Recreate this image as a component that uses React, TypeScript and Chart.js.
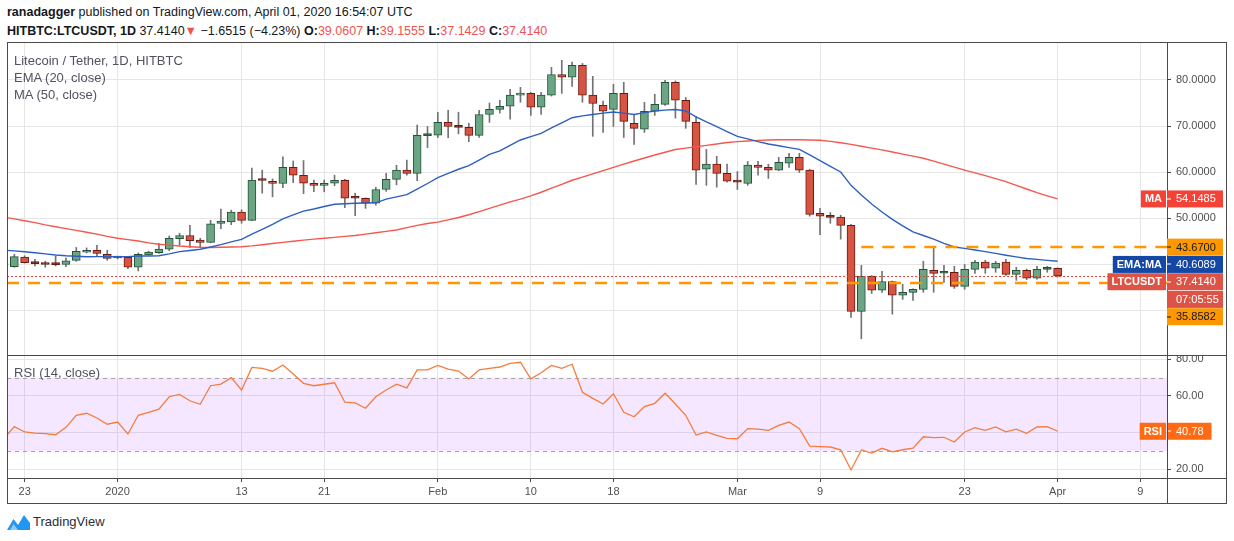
import React, { useEffect, useRef } from 'react';
import { Chart, registerables } from 'chart.js';

Chart.register(...registerables);

const FONT = '"Liberation Sans", Arial, sans-serif';

// ---- x axis (day index 0 = 2019-12-21) ----
const tickDays = [2, 11, 23, 31, 42, 51, 59, 71, 79, 93, 102, 110];
const tickLabels = ['23', '2020', '13', '21', 'Feb', '10', '18', 'Mar', '9', '23', 'Apr', '9'];

// ---- LTC/USDT daily candles, Dec 21 2019 .. Apr 1 2020 ----
const opens = [
  39.95, 39.41, 41.5, 40.4, 40.15, 39.95, 39.9, 40.8, 42.55, 43.0,
  42.1, 41.3, 41.45, 39.3, 42.0, 42.45, 43.2, 45.5, 46.2, 45.2,
  44.7, 48.85, 49.13, 51.3, 49.5, 58.25, 57.98, 57.5, 61.0, 59.3,
  57.55, 57.1, 57.55, 58.2, 54.5, 54.3, 53.2, 56.2, 58.4, 60.4,
  59.7, 67.9, 68.0, 70.8, 69.9, 69.7, 67.97, 72.5, 73.6, 74.3,
  76.7, 77.1, 74.1, 76.7, 81.2, 80.6, 83.2, 76.7, 74.5, 73.6,
  77.1, 70.6, 69.3, 73.2, 74.7, 79.5, 75.6, 70.8, 60.6, 61.7,
  59.7, 58.0, 57.5, 61.5, 61.0, 60.4, 61.9, 63.2, 60.4, 51.0,
  50.25, 50.2, 48.4, 29.7, 37.3, 34.3, 36.2, 33.2, 33.85, 34.5,
  38.6, 38.0, 38.2, 35.15, 38.85, 40.4, 39.1, 40.4, 37.75, 38.6,
  36.9, 38.85, 39.06,
];
const highs = [
  40.4, 42.1, 41.8, 41.0, 40.6, 41.7, 41.3, 43.6, 43.5, 44.06,
  43.0, 41.7, 41.6, 42.4, 42.8, 44.5, 46.1, 46.7, 48.4, 45.6,
  49.5, 51.96, 51.7, 51.8, 60.87, 60.4, 58.5, 63.3, 62.4, 62.5,
  58.26, 58.26, 59.3, 58.4, 55.4, 54.4, 56.68, 59.7, 61.45, 62.6,
  70.2, 69.9, 72.98, 73.4, 73.0, 70.6, 73.4, 75.0, 75.6, 77.98,
  78.4, 77.3, 77.3, 82.76, 84.28, 83.9, 83.6, 80.8, 75.4, 79.06,
  79.5, 72.5, 75.15, 76.9, 79.93, 79.8, 76.2, 72.1, 64.9, 63.4,
  61.7, 60.1, 62.3, 62.3, 61.7, 63.2, 64.07, 64.07, 60.6, 52.1,
  51.2, 50.6, 48.6, 39.7, 37.5, 38.4, 36.3, 35.6, 34.6, 40.6,
  43.6, 39.7, 39.5, 39.9, 40.8, 40.8, 40.6, 41.0, 39.3, 38.9,
  39.5, 39.5, 39.16,
];
const lows = [
  39.5, 39.3, 40.2, 39.6, 39.3, 39.56, 39.4, 40.6, 42.4, 41.6,
  40.8, 41.1, 38.98, 38.5, 41.9, 42.3, 42.9, 44.06, 43.6, 43.6,
  44.6, 47.68, 48.55, 48.85, 49.4, 55.4, 54.6, 56.6, 57.7, 55.3,
  55.7, 55.7, 57.0, 52.25, 50.5, 52.1, 52.8, 55.8, 57.2, 59.3,
  58.1, 65.3, 67.5, 67.45, 68.3, 66.6, 67.5, 70.8, 72.8, 71.5,
  75.15, 72.3, 72.5, 76.5, 77.1, 78.6, 75.15, 67.75, 68.6, 69.9,
  67.5, 66.0, 68.6, 72.3, 74.5, 71.7, 69.5, 57.3, 57.1, 56.7,
  57.8, 56.2, 57.1, 59.3, 58.6, 60.3, 61.0, 59.9, 50.4, 46.4,
  48.85, 45.4, 28.4, 23.75, 33.6, 33.85, 29.1, 32.3, 32.1, 33.85,
  33.85, 36.0, 34.7, 34.5, 37.97, 37.97, 38.2, 37.5, 36.45, 36.6,
  36.7, 38.2, 37.14,
];
const closes = [
  39.8, 41.59, 40.3, 40.1, 39.9, 39.85, 40.7, 42.75, 42.99, 42.3,
  41.2, 41.6, 39.3, 42.1, 42.6, 43.26, 45.6, 46.2, 45.1, 44.7,
  48.75, 49.35, 51.3, 49.5, 58.26, 58.15, 57.5, 61.0, 59.3, 57.55,
  57.1, 57.55, 58.2, 54.3, 54.3, 53.2, 56.2, 58.4, 60.4, 59.7,
  67.97, 68.1, 70.8, 69.9, 69.7, 67.97, 72.5, 73.6, 74.3, 76.7,
  77.1, 74.1, 76.7, 81.2, 80.6, 83.2, 76.7, 74.9, 73.2, 77.1,
  71.0, 69.5, 73.2, 74.7, 79.5, 75.6, 71.0, 60.4, 61.7, 59.7,
  58.0, 57.8, 61.5, 61.0, 60.4, 62.1, 63.2, 60.4, 50.8, 50.4,
  50.15, 48.4, 29.7, 37.3, 34.3, 36.2, 33.2, 33.85, 34.5, 38.85,
  37.97, 38.2, 35.15, 38.85, 40.4, 39.1, 40.2, 37.75, 38.6, 36.9,
  38.85, 39.06, 37.414,
];

// ---- indicators ----
const ema20 = [
  43.0, 42.85, 42.68, 42.45, 42.2, 41.96, 41.8, 41.7, 41.58, 41.6,
  41.6, 41.58, 41.6, 41.74, 41.75, 41.8, 42.2, 42.68, 42.95, 43.2,
  43.7, 44.2, 44.8, 45.37, 46.5, 47.55, 48.6, 49.8, 50.7, 51.5,
  51.96, 52.5, 52.98, 53.1, 53.2, 53.25, 53.3, 54.1, 54.6, 55.07,
  56.3, 57.5, 58.76, 59.7, 60.6, 61.4, 62.6, 63.85, 64.6, 65.8,
  66.96, 67.7, 68.4, 69.6, 70.7, 71.8, 72.2, 72.5, 72.8, 73.04,
  72.8, 72.5, 72.9, 73.26, 73.45, 73.6, 73.26, 72.0, 70.9, 69.85,
  68.8, 67.76, 67.2, 66.6, 66.1, 65.7, 65.3, 64.93, 63.7, 62.46,
  61.2, 60.0, 57.1, 55.0, 53.04, 51.3, 49.7, 48.3, 47.0, 46.2,
  45.4, 44.5, 43.7, 43.4, 43.04, 42.7, 42.3, 41.9, 41.55, 41.2,
  41.0, 40.8, 40.6089,
];
const ma50 = [
  50.2, 49.8, 49.4, 49.0, 48.5, 48.1, 47.7, 47.3, 46.9, 46.5,
  46.0, 45.6, 45.3, 45.0, 44.6, 44.3, 44.1, 43.9, 43.75, 43.63,
  43.6, 43.65, 43.7, 43.76, 43.95, 44.2, 44.45, 44.7, 44.95, 45.2,
  45.4, 45.6, 45.8, 46.0, 46.2, 46.5, 46.8, 47.1, 47.4, 47.9,
  48.4, 48.8, 49.1, 49.6, 50.1, 50.7, 51.4, 52.1, 52.8, 53.5,
  54.1, 54.8, 55.6, 56.5, 57.3, 58.2, 58.9, 59.6, 60.3, 61.0,
  61.7, 62.4, 63.04, 63.7, 64.3, 64.9, 65.2, 65.5, 65.8, 66.1,
  66.4, 66.6, 66.75, 66.87, 66.96, 67.0, 67.02, 67.0, 66.95, 66.9,
  66.65, 66.37, 66.0, 65.6, 65.2, 64.8, 64.35, 63.9, 63.45, 62.98,
  62.35, 61.7, 61.05, 60.4, 59.8, 59.2, 58.55, 57.9, 57.1, 56.3,
  55.5, 54.8, 54.1485,
];
const rsi14 = [
  36.8, 43.3, 40.4, 39.8, 39.5, 38.9, 42.9, 49.5, 50.6, 48.0,
  44.6, 45.8, 39.3, 49.5, 51.1, 52.8, 59.6, 60.9, 57.4, 55.5,
  65.6, 66.5, 70.0, 63.3, 75.6, 75.1, 73.5, 76.9, 72.0, 66.9,
  65.6, 66.4, 67.2, 56.6, 56.2, 53.3, 59.6, 63.3, 66.4, 64.4,
  74.2, 74.2, 76.7, 74.7, 73.6, 69.3, 74.2, 75.1, 75.8, 77.8,
  78.4, 69.4, 72.7, 76.7, 75.1, 77.3, 62.0, 58.7, 55.6, 61.2,
  51.1, 48.7, 54.2, 56.0, 61.5, 55.6, 49.5, 38.7, 40.4, 38.6,
  36.9, 36.7, 42.2, 41.9, 41.3, 44.0, 45.8, 42.2, 32.7, 32.4,
  32.2, 30.7, 19.7, 30.6, 28.9, 31.5, 29.6, 30.7, 31.6, 37.8,
  37.3, 37.5, 34.9, 40.4, 42.7, 41.3, 43.1, 40.5, 41.9, 39.7,
  43.1, 43.3, 40.78,
];

// ---- drawn levels / last values ----
const levelHigh = 43.67;
const levelLow = 35.8582;
const levelHighStartDay = 83;
const lastPrice = 37.414;
const lastEma = 40.6089;
const lastMa = 54.1485;
const lastRsi = 40.78;
const countdown = '07:05:55';
const rsiBandLow = 30;
const rsiBandHigh = 70;
const mainTicks = [30, 40, 50, 60, 70, 80];
const rsiTicks = [20, 40, 60, 80];

// ---- styling ----
const X_MIN = 0.293;
const X_MAX = 112.59;
const W = 1220;
const MAIN_H = 313;
const RSI_H = 149;
const AXIS_W = 60;
const XAXIS_H = 26;
const GRID = '#e6e6e6';
const FRAME = '#4a4a4a';
const TEXT = '#4f4f4f';
const GREEN = '#6ba583';
const GREEN_B = '#225437';
const RED = '#d75442';
const RED_B = '#6b1a12';

const noPad = (s: any) => {
  s.paddingTop = 0;
  s.paddingBottom = 0;
  s.paddingLeft = 0;
  s.paddingRight = 0;
};

const setDayTicks = (s: any) => {
  s.ticks = tickDays.map((v) => ({ value: v }));
};

function candleColor(i: number | undefined, border: boolean) {
  if (i === undefined) return border ? GREEN_B : GREEN;
  const up = closes[i] >= opens[i];
  const doji = Math.abs(closes[i] - opens[i]) < 0.35;
  if (border || doji) return up ? GREEN_B : RED_B;
  return up ? GREEN : RED;
}

function drawBox(ctx: CanvasRenderingContext2D, x: number, top: number, w: number, h: number, bg: string) {
  ctx.fillStyle = bg;
  ctx.fillRect(x, top, w, h);
}

type AxisLabel = { value: number; text: string; bg: string; fg: string; tag?: string; extra?: string };

function drawAxisLabels(chart: any, labels: AxisLabel[], scaleId: string) {
  const { ctx, chartArea } = chart;
  const scale = chart.scales[scaleId];
  const axisLeft = chartArea.right;
  const H = 17;
  const items = labels
    .map((l) => ({ ...l, py: scale.getPixelForValue(l.value) }))
    .sort((a, b) => a.py - b.py);
  let prevBottom = -Infinity;
  ctx.save();
  ctx.textBaseline = 'middle';
  for (const it of items) {
    const top = Math.max(it.py - H / 2, prevBottom + 0.3);
    const cy = top + H / 2;
    ctx.font = `11px ${FONT}`;
    const tw = ctx.measureText(it.text).width;
    const bw = Math.max(56, tw + 17);
    const boxW = labels.length > 1 ? 56 : tw + 17;
    drawBox(ctx, axisLeft, top, boxW, H, it.bg);
    ctx.fillStyle = it.fg;
    ctx.fillRect(axisLeft, Math.round(cy) - 0.5, 4, 1);
    ctx.textAlign = 'left';
    ctx.fillText(it.text, axisLeft + 9, cy + 0.5);
    let bottom = top + H;
    if (it.extra) {
      const top2 = top + H + 0.7;
      drawBox(ctx, axisLeft, top2, boxW, H, it.bg);
      ctx.fillStyle = it.fg;
      ctx.fillText(it.extra, axisLeft + 9, top2 + H / 2 + 0.5);
      bottom = top2 + H;
    }
    if (it.tag) {
      ctx.font = `bold 11px ${FONT}`;
      const gw = ctx.measureText(it.tag).width + 8;
      drawBox(ctx, axisLeft - 1 - gw, top, gw, H, it.bg);
      ctx.fillStyle = it.fg;
      ctx.textAlign = 'center';
      ctx.fillText(it.tag, axisLeft - 1 - gw / 2, cy + 0.5);
    }
    void bw;
    prevBottom = bottom;
  }
  ctx.restore();
}

const mainLabels: AxisLabel[] = [
  { value: lastMa, text: lastMa.toFixed(4), bg: '#f44336', fg: '#ffffff', tag: 'MA' },
  { value: levelHigh, text: levelHigh.toFixed(4), bg: '#ff9800', fg: '#131722' },
  { value: lastEma, text: lastEma.toFixed(4), bg: '#1448a4', fg: '#ffffff', tag: 'EMA:MA' },
  { value: lastPrice, text: lastPrice.toFixed(4), bg: '#dd5446', fg: '#ffffff', tag: 'LTCUSDT', extra: countdown },
  { value: levelLow, text: levelLow.toFixed(4), bg: '#ff9800', fg: '#131722' },
];
const rsiLabels: AxisLabel[] = [
  { value: lastRsi, text: lastRsi.toFixed(2), bg: '#ff6a13', fg: '#ffffff', tag: 'RSI' },
];

const mainOverlay = {
  id: 'mainOverlay',
  afterDatasetsDraw(chart: any) {
    const { ctx, chartArea } = chart;
    const { left, right, top, bottom } = chartArea;
    const x = chart.scales.x;
    const y = chart.scales.y;
    ctx.save();
    ctx.beginPath();
    ctx.rect(left, top, right - left, bottom - top);
    ctx.clip();
    // last price dotted line
    ctx.strokeStyle = '#e0463b';
    ctx.lineWidth = 1;
    ctx.setLineDash([2, 2]);
    const yp = Math.round(y.getPixelForValue(lastPrice)) + 0.5;
    ctx.beginPath();
    ctx.moveTo(left, yp);
    ctx.lineTo(right, yp);
    ctx.stroke();
    // orange horizontal levels
    ctx.strokeStyle = '#ff9800';
    ctx.lineWidth = 2.5;
    ctx.setLineDash([12, 9]);
    const yh = y.getPixelForValue(levelHigh);
    ctx.beginPath();
    ctx.moveTo(x.getPixelForValue(levelHighStartDay), yh);
    ctx.lineTo(right, yh);
    ctx.stroke();
    const yl = y.getPixelForValue(levelLow);
    ctx.beginPath();
    ctx.moveTo(left, yl);
    ctx.lineTo(right, yl);
    ctx.stroke();
    ctx.restore();
  },
  afterDraw(chart: any) {
    const { ctx } = chart;
    drawAxisLabels(chart, mainLabels, 'y');
    ctx.save();
    ctx.strokeStyle = FRAME;
    ctx.lineWidth = 1;
    ctx.beginPath();
    ctx.moveTo(0, 0.5);
    ctx.lineTo(W, 0.5);
    ctx.moveTo(0.5, 0);
    ctx.lineTo(0.5, MAIN_H);
    ctx.moveTo(W - 0.5, 0);
    ctx.lineTo(W - 0.5, MAIN_H);
    ctx.stroke();
    ctx.restore();
  },
};

const rsiOverlay = {
  id: 'rsiOverlay',
  beforeDatasetsDraw(chart: any) {
    const { ctx, chartArea } = chart;
    const { left, right } = chartArea;
    const y = chart.scales.y;
    const yHi = y.getPixelForValue(rsiBandHigh);
    const yLo = y.getPixelForValue(rsiBandLow);
    ctx.save();
    ctx.fillStyle = 'rgba(153, 21, 255, 0.1)';
    ctx.fillRect(left, yHi, right - left, yLo - yHi);
    ctx.strokeStyle = '#a3a3a3';
    ctx.lineWidth = 1;
    ctx.setLineDash([4, 4]);
    ctx.beginPath();
    ctx.moveTo(left, Math.round(yHi) + 0.5);
    ctx.lineTo(right, Math.round(yHi) + 0.5);
    ctx.moveTo(left, Math.round(yLo) + 0.5);
    ctx.lineTo(right, Math.round(yLo) + 0.5);
    ctx.stroke();
    ctx.restore();
  },
  afterDraw(chart: any) {
    const { ctx, chartArea } = chart;
    drawAxisLabels(chart, rsiLabels, 'y');
    ctx.save();
    ctx.strokeStyle = FRAME;
    ctx.lineWidth = 1;
    ctx.beginPath();
    ctx.moveTo(0, 0.5);
    ctx.lineTo(W, 0.5);
    ctx.moveTo(0, chartArea.bottom + 0.5);
    ctx.lineTo(W, chartArea.bottom + 0.5);
    ctx.moveTo(0, RSI_H - 0.5);
    ctx.lineTo(W, RSI_H - 0.5);
    ctx.moveTo(0.5, 0);
    ctx.lineTo(0.5, RSI_H);
    ctx.moveTo(W - 0.5, 0);
    ctx.lineTo(W - 0.5, RSI_H);
    ctx.moveTo(chartArea.right + 0.5, 0);
    ctx.lineTo(chartArea.right + 0.5, RSI_H);
    ctx.stroke();
    ctx.restore();
  },
};

export default function App() {
  const mainRef = useRef<HTMLCanvasElement>(null);
  const rsiRef = useRef<HTMLCanvasElement>(null);

  useEffect(() => {
    Chart.defaults.font.family = FONT;
    Chart.defaults.color = TEXT;

    const idx = closes.map((_, i) => i);

    const main = new Chart(mainRef.current as HTMLCanvasElement, {
      type: 'bar',
      data: {
        datasets: [
          {
            type: 'line',
            label: 'EMA (20, close)',
            data: idx.map((i) => ({ x: i, y: ema20[i] })),
            borderColor: '#2e5fbf',
            borderWidth: 1.4,
            pointRadius: 0,
            tension: 0,
            order: 0,
          } as any,
          {
            type: 'line',
            label: 'MA (50, close)',
            data: idx.map((i) => ({ x: i, y: ma50[i] })),
            borderColor: '#f4574e',
            borderWidth: 1.4,
            pointRadius: 0,
            tension: 0,
            order: 1,
          } as any,
          {
            type: 'bar',
            label: 'body',
            data: idx.map((i) => ({ x: i, y: [opens[i], closes[i]] })),
            backgroundColor: (c: any) => candleColor(c.dataIndex, false),
            borderColor: (c: any) => candleColor(c.dataIndex, true),
            borderWidth: 1,
            borderSkipped: false,
            barThickness: 8,
            minBarLength: 2,
            grouped: false,
            order: 2,
          } as any,
          {
            type: 'bar',
            label: 'wick',
            data: idx.map((i) => ({ x: i, y: [lows[i], highs[i]] })),
            backgroundColor: '#737375',
            borderWidth: 0,
            barThickness: 1,
            grouped: false,
            order: 3,
          } as any,
        ],
      },
      options: {
        responsive: false,
        maintainAspectRatio: false,
        animation: false,
        events: [],
        layout: { padding: 0 },
        plugins: { legend: { display: false }, tooltip: { enabled: false } },
        scales: {
          x: {
            type: 'linear',
            min: X_MIN,
            max: X_MAX,
            offset: false,
            afterBuildTicks: setDayTicks,
            ticks: { display: false },
            grid: { color: GRID, drawTicks: false, offset: false },
            border: { display: false },
            afterFit: (s: any) => {
              s.height = 0;
              noPad(s);
            },
          },
          y: {
            type: 'linear',
            position: 'right',
            min: 20.22,
            max: 88.26,
            afterBuildTicks: (s: any) => {
              s.ticks = mainTicks.map((v) => ({ value: v }));
            },
            ticks: {
              callback: (v: any) => (v === 30 || v === 40 ? '' : Number(v).toFixed(4)),
              color: TEXT,
              font: { size: 11, family: FONT },
              padding: 5,
            },
            grid: { color: GRID, tickLength: 4, tickColor: FRAME },
            border: { color: FRAME },
            afterFit: (s: any) => {
              s.width = AXIS_W;
              noPad(s);
            },
          },
        },
      } as any,
      plugins: [mainOverlay],
    });

    const rsi = new Chart(rsiRef.current as HTMLCanvasElement, {
      type: 'line',
      data: {
        datasets: [
          {
            label: 'RSI (14, close)',
            data: idx.map((i) => ({ x: i, y: rsi14[i] })),
            borderColor: '#f57c3c',
            borderWidth: 1.3,
            pointRadius: 0,
            tension: 0,
          },
        ],
      },
      options: {
        responsive: false,
        maintainAspectRatio: false,
        animation: false,
        events: [],
        layout: { padding: 0 },
        plugins: { legend: { display: false }, tooltip: { enabled: false } },
        scales: {
          x: {
            type: 'linear',
            min: X_MIN,
            max: X_MAX,
            offset: false,
            afterBuildTicks: setDayTicks,
            ticks: {
              autoSkip: false,
              maxRotation: 0,
              minRotation: 0,
              color: TEXT,
              font: { size: 11, family: FONT },
              padding: 3,
              callback: (v: any) => {
                const k = tickDays.indexOf(Number(v));
                return k >= 0 ? tickLabels[k] : '';
              },
            },
            grid: { color: GRID, tickLength: 4, tickColor: FRAME },
            border: { color: FRAME },
            afterFit: (s: any) => {
              s.height = XAXIS_H;
              noPad(s);
            },
          },
          y: {
            type: 'linear',
            position: 'right',
            min: 15.31,
            max: 82.34,
            afterBuildTicks: (s: any) => {
              s.ticks = rsiTicks.map((v) => ({ value: v }));
            },
            ticks: {
              callback: (v: any) => (v === 40 ? '' : Number(v).toFixed(2)),
              color: TEXT,
              font: { size: 11, family: FONT },
              padding: 5,
            },
            grid: { color: GRID, tickLength: 4, tickColor: FRAME },
            border: { color: FRAME },
            afterFit: (s: any) => {
              s.width = AXIS_W;
              noPad(s);
            },
          },
        },
      } as any,
      plugins: [rsiOverlay],
    });

    return () => {
      main.destroy();
      rsi.destroy();
    };
  }, []);

  const red = { color: '#ef5350' };
  const legend: React.CSSProperties = {
    position: 'absolute',
    left: 14,
    fontSize: 13,
    lineHeight: '16px',
    color: '#50535e',
    whiteSpace: 'pre',
  };

  return (
    <div
      style={{
        position: 'absolute',
        left: 0,
        top: 0,
        width: 1234,
        height: 541,
        background: '#ffffff',
        overflow: 'hidden',
        fontFamily: FONT,
      }}
    >
      <div style={{ position: 'absolute', left: 7, top: 3, fontSize: 12.5, lineHeight: '18px', color: '#131722', whiteSpace: 'pre' }}>
        <b>ranadagger</b> published on TradingView.com, April 01, 2020 16:54:07 UTC
      </div>
      <div style={{ position: 'absolute', left: 7, top: 22, fontSize: 12.5, lineHeight: '18px', color: '#131722', whiteSpace: 'pre' }}>
        <b>HITBTC:LTCUSDT, 1D</b> 37.4140<span style={red}>▼</span> −1.6515 (−4.23%) <b>O:</b>
        <span style={red}>39.0607</span> <b>H:</b>
        <span style={red}>39.1555</span> <b>L:</b>
        <span style={red}>37.1429</span> <b>C:</b>
        <span style={red}>37.4140</span>
      </div>

      <canvas
        ref={mainRef}
        width={W}
        height={MAIN_H}
        style={{ position: 'absolute', left: 7, top: 42, width: W, height: MAIN_H }}
      />
      <canvas
        ref={rsiRef}
        width={W}
        height={RSI_H}
        style={{ position: 'absolute', left: 7, top: 355, width: W, height: RSI_H }}
      />

      <div style={{ ...legend, top: 53 }}>Litecoin / Tether, 1D, HITBTC</div>
      <div style={{ ...legend, top: 70 }}>EMA (20, close)</div>
      <div style={{ ...legend, top: 87 }}>MA (50, close)</div>
      <div style={{ ...legend, top: 365 }}>RSI (14, close)</div>

      <div style={{ position: 'absolute', left: 7, top: 513, display: 'flex', alignItems: 'center' }}>
        <svg width="23" height="18" viewBox="0 0 23 18">
          <path d="M0 17 L6.5 6 L11 12 L17 2 L23 10 L23 17 Z" fill="#2196f3" />
          <path d="M3 17 L6.5 11 L11 17 Z" fill="#90caf9" />
        </svg>
        <span style={{ marginLeft: 3, fontSize: 13, lineHeight: '18px', color: '#2a2e39' }}>TradingView</span>
      </div>
    </div>
  );
}
